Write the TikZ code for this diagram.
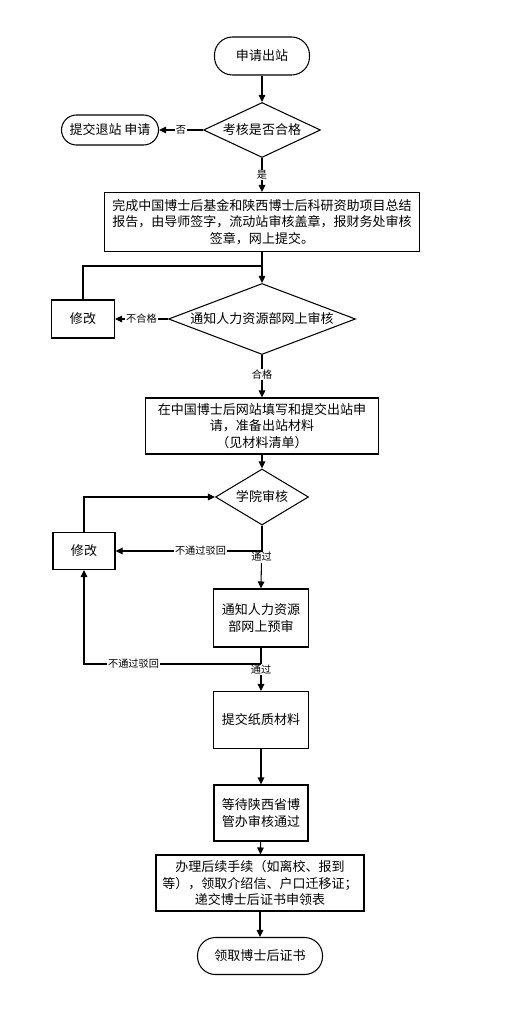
\documentclass[tikz,border=0pt]{standalone}
\usepackage{fontspec}
\setmainfont{Noto Sans CJK SC}
\usetikzlibrary{shapes.geometric,arrows.meta}
\tikzset{
	flowbox/.style={draw, semithick, rectangle, inner sep=1pt, align=center, font=\fontsize{7.4}{9.4}\selectfont},
	termbox/.style={draw, semithick, rectangle, rounded corners=0.36cm, inner sep=1pt, font=\fontsize{7.4}{9.4}\selectfont},
	checkbox/.style={draw, semithick, diamond, inner sep=0pt, font=\fontsize{7.4}{9.4}\selectfont},
	flow/.style={semithick, -{Triangle[length=1.4mm, width=1.3mm]}},
	plain/.style={semithick},
	tag/.style={fill=white, inner sep=0.5pt, font=\fontsize{5.8}{7}\selectfont}
}
\begin{document}
\begin{tikzpicture}
			%%%%% START %%%%%
			\useasboundingbox (0, 0) rectangle (10.24, -20.3);
			
			\node[termbox, minimum width=1.9cm, minimum height=0.76cm] (apply) at (5.24, -1.12) {申请出站};
			\node[checkbox, aspect=2.13, minimum width=2.34cm, minimum height=1.1cm] (assess) at (5.24, -2.6) {考核是否合格};
			\node[termbox, minimum width=1.94cm, minimum height=0.6cm, rounded corners=0.3cm] (quit) at (2.2, -2.6) {提交退站 申请};
			
			\node[flowbox, minimum width=6.3cm, minimum height=1.18cm] (report) at (5.24, -4.44) {完成中国博士后基金和陕西博士后科研资助项目总结\\报告，由导师签字，流动站审核盖章，报财务处审核\\签章，网上提交。};
			\node[checkbox, aspect=2.63, minimum width=3.74cm, minimum height=1.42cm] (hrcheck) at (5.24, -6.38) {通知人力资源部网上审核};
			\node[flowbox, minimum width=1.26cm, minimum height=0.76cm] (fixa) at (1.66, -6.38) {修改};
			
			\node[flowbox, minimum width=4.66cm, minimum height=1.12cm] (online) at (5.24, -8.52) {在中国博士后网站填写和提交出站申\\请，准备出站材料\\（见材料清单）};
			\node[checkbox, aspect=1.66, minimum width=1.86cm, minimum height=1.12cm] (school) at (5.24, -9.94) {学院审核};
			\node[flowbox, minimum width=1.24cm, minimum height=0.74cm] (fixb) at (1.68, -11.02) {修改};
			
			\node[flowbox, minimum width=1.9cm, minimum height=1.16cm] (precheck) at (5.22, -12.36) {通知人力资源\\部网上预审};
			\node[flowbox, minimum width=1.9cm, minimum height=1.14cm] (paper) at (5.22, -14.4) {提交纸质材料};
			\node[flowbox, minimum width=1.88cm, minimum height=1.12cm] (province) at (5.22, -16.26) {等待陕西省博\\管办审核通过};
			\node[flowbox, minimum width=4.16cm, minimum height=1.12cm] (leave) at (5.2, -17.66) {办理后续手续（如离校、报到\\等），领取介绍信、户口迁移证；\\递交博士后证书申领表};
			\node[termbox, minimum width=2.5cm, minimum height=0.74cm] (cert) at (5.2, -19.12) {领取博士后证书};
			
			\coordinate (joina) at (5.24, -5.32);
			\coordinate (joinb) at (5.22, -13.28);
			
			\draw[flow] (apply) -- (assess);
			\draw[flow] (assess.west) -- node[tag] {否} (quit.east);
			\draw[flow] (assess.south) -- node[tag, pos=0.5] {是} (report.north);
			
			\draw[flow] (report.south) -- (hrcheck.north);
			\draw[plain] (fixa.north) |- (joina);
			\draw[flow] (hrcheck.west) -- node[tag] {不合格} (fixa.east);
			\draw[flow] (hrcheck.south) -- node[tag, pos=0.45] {合格} (online.north);
			
			\draw[flow] (online.south) -- (school.north);
			\draw[flow] (fixb.north) |- (school.west);
			\draw[flow] (school.south) |- node[tag, pos=0.71] {不通过驳回} (fixb.east);
			\draw[flow] (school.south) -- node[tag] {通过} (precheck.north);
			
			\draw[flow] (precheck.south) -- node[tag] {通过} (paper.north);
			\draw[flow] (joinb) -| node[tag, pos=0.36] {不通过驳回} (fixb.south);
			
			\draw[flow] (paper) -- (province);
			\draw[flow] (province) -- (leave);
			\draw[flow] (leave) -- (cert);
			%%%%% END %%%%%
\end{tikzpicture}
\end{document}
